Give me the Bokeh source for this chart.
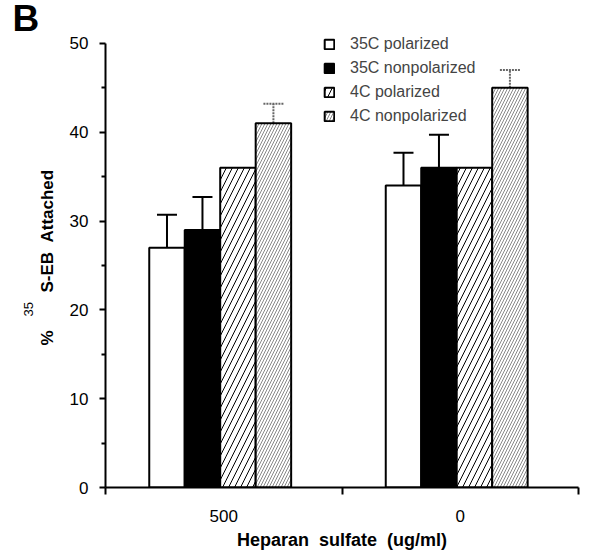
import math
from bokeh.plotting import figure
from bokeh.models import (ColumnDataSource, FixedTicker, Whisker, TeeHead, Title,
                          Legend, LegendItem, Range1d)
from bokeh.embed import file_html
from bokeh.resources import INLINE

# ---- data ----
groups = ["500", "0"]
series = ["35C polarized", "35C nonpolarized", "4C polarized", "4C nonpolarized"]
v_35p = [27, 34]
v_35n = [29, 36]
v_4p = [36, 36]
v_4n = [41, 45]
e_35p = [3.7, 3.7]
e_35n = [3.7, 3.7]
e_4p = [0, 0]
e_4n = [2.2, 2.0]
y_ticks = [0, 10, 20, 30, 40, 50]

values = [v_35p, v_35n, v_4p, v_4n]
errors = [e_35p, e_35n, e_4p, e_4n]

FONT = "Liberation Sans"
bar_w = 0.15
offsets = [-0.24, -0.09, 0.06, 0.21]
group_pos = [i + 0.5 for i in range(len(groups))]

styles = [
    dict(fill_color="white"),
    dict(fill_color="black"),
    dict(fill_color="white", hatch_pattern="/", hatch_color="black", hatch_scale=12, hatch_weight=1),
    dict(fill_color="white", hatch_pattern="/", hatch_color="#888888", hatch_scale=6, hatch_weight=1),
]
whisk_styles = [
    dict(line_color="black", line_dash="solid"),
    dict(line_color="black", line_dash="solid"),
    dict(line_color="black", line_dash="solid"),
    dict(line_color="#666666", line_dash="2 1"),
]

p = figure(width=613, height=552, output_backend="svg", toolbar_location=None,
           x_range=Range1d(0, 2), y_range=Range1d(0, 51),
           min_border_left=105, min_border_right=35, min_border_top=34, min_border_bottom=64)
p.outline_line_color = None
p.xgrid.grid_line_color = None
p.ygrid.grid_line_color = None
p.background_fill_color = "white"
p.border_fill_color = "white"

items = []
for k, name in enumerate(series):
    xs = [g + offsets[k] for g in group_pos]
    src = ColumnDataSource(dict(x=xs, top=values[k], err=errors[k],
                                upper=[v + e for v, e in zip(values[k], errors[k])]))
    r = p.vbar(x="x", top="top", bottom=0, width=bar_w, source=src,
               line_color="black", line_width=2, **styles[k])
    items.append(LegendItem(label=name, renderers=[r]))
    if any(e > 0 for e in errors[k]):
        ws = whisk_styles[k]
        w = Whisker(base="x", upper="upper", lower="top", source=src, dimension="height",
                    line_width=2, line_color=ws["line_color"], line_dash=ws["line_dash"],
                    upper_head=TeeHead(size=20, line_width=2, line_color=ws["line_color"],
                                       line_dash=ws["line_dash"]),
                    lower_head=None)
        p.add_layout(w)

legend = Legend(items=items, location=(218, 362), orientation="vertical",
                background_fill_alpha=0, border_line_color=None,
                glyph_width=12, glyph_height=12, label_height=17, spacing=6,
                label_standoff=15, padding=0, margin=0,
                label_text_font=FONT, label_text_font_size="16px")
p.add_layout(legend)

# x axis
p.xaxis.ticker = FixedTicker(ticks=group_pos, minor_ticks=[0, 1, 2])
p.xaxis.major_label_overrides = {g: lab for g, lab in zip(group_pos, groups)}
p.xaxis.major_tick_out = 0
p.xaxis.major_tick_in = 0
p.xaxis.minor_tick_out = 7
p.xaxis.minor_tick_in = 0
p.xaxis.major_label_standoff = 15
p.xaxis.axis_label = "Heparan\u00a0 sulfate\u00a0 (ug/ml)"
p.xaxis.axis_label_standoff = 5
p.xaxis.axis_label_text_font = FONT
p.xaxis.axis_label_text_font_style = "bold"
p.xaxis.axis_label_text_font_size = "18px"

# y axis
p.yaxis.ticker = FixedTicker(ticks=y_ticks, minor_ticks=[t + 5 for t in y_ticks[:-1]])
p.yaxis.bounds = (y_ticks[0], y_ticks[-1])
p.yaxis.major_tick_out = 6
p.yaxis.major_tick_in = 0
p.yaxis.minor_tick_out = 4
p.yaxis.minor_tick_in = 0
p.yaxis.major_label_standoff = 11

for ax in (p.xaxis, p.yaxis):
    ax.axis_line_width = 2
    ax.axis_line_color = "black"
    ax.major_tick_line_width = 2
    ax.minor_tick_line_width = 2
    ax.major_tick_line_color = "black"
    ax.minor_tick_line_color = "black"
    ax.major_label_text_font = FONT
    ax.major_label_text_font_size = "17px"
    ax.major_label_text_color = "black"
    ax.axis_label_text_color = "black"

# y axis label (two side titles: main text and superscript "35")
nb = "\u00a0"
p.add_layout(Title(text="%" + nb * 8 + "S-EB" + nb * 2 + "Attached", align="left", offset=142,
                   standoff=20, text_font=FONT, text_font_style="bold",
                   text_font_size="17px", text_color="black"), "left")
p.add_layout(Title(text="35", align="left", offset=171, standoff=-14,
                   text_font=FONT, text_font_style="normal",
                   text_font_size="13px", text_color="black"), "left")
# panel letter
p.add_layout(Title(text="B", align="left", offset=-93, standoff=-13, vertical_align="top",
                   text_font=FONT, text_font_style="bold",
                   text_font_size="37px", text_color="black"), "above")

open("out.html", "w").write(file_html(p, INLINE))
